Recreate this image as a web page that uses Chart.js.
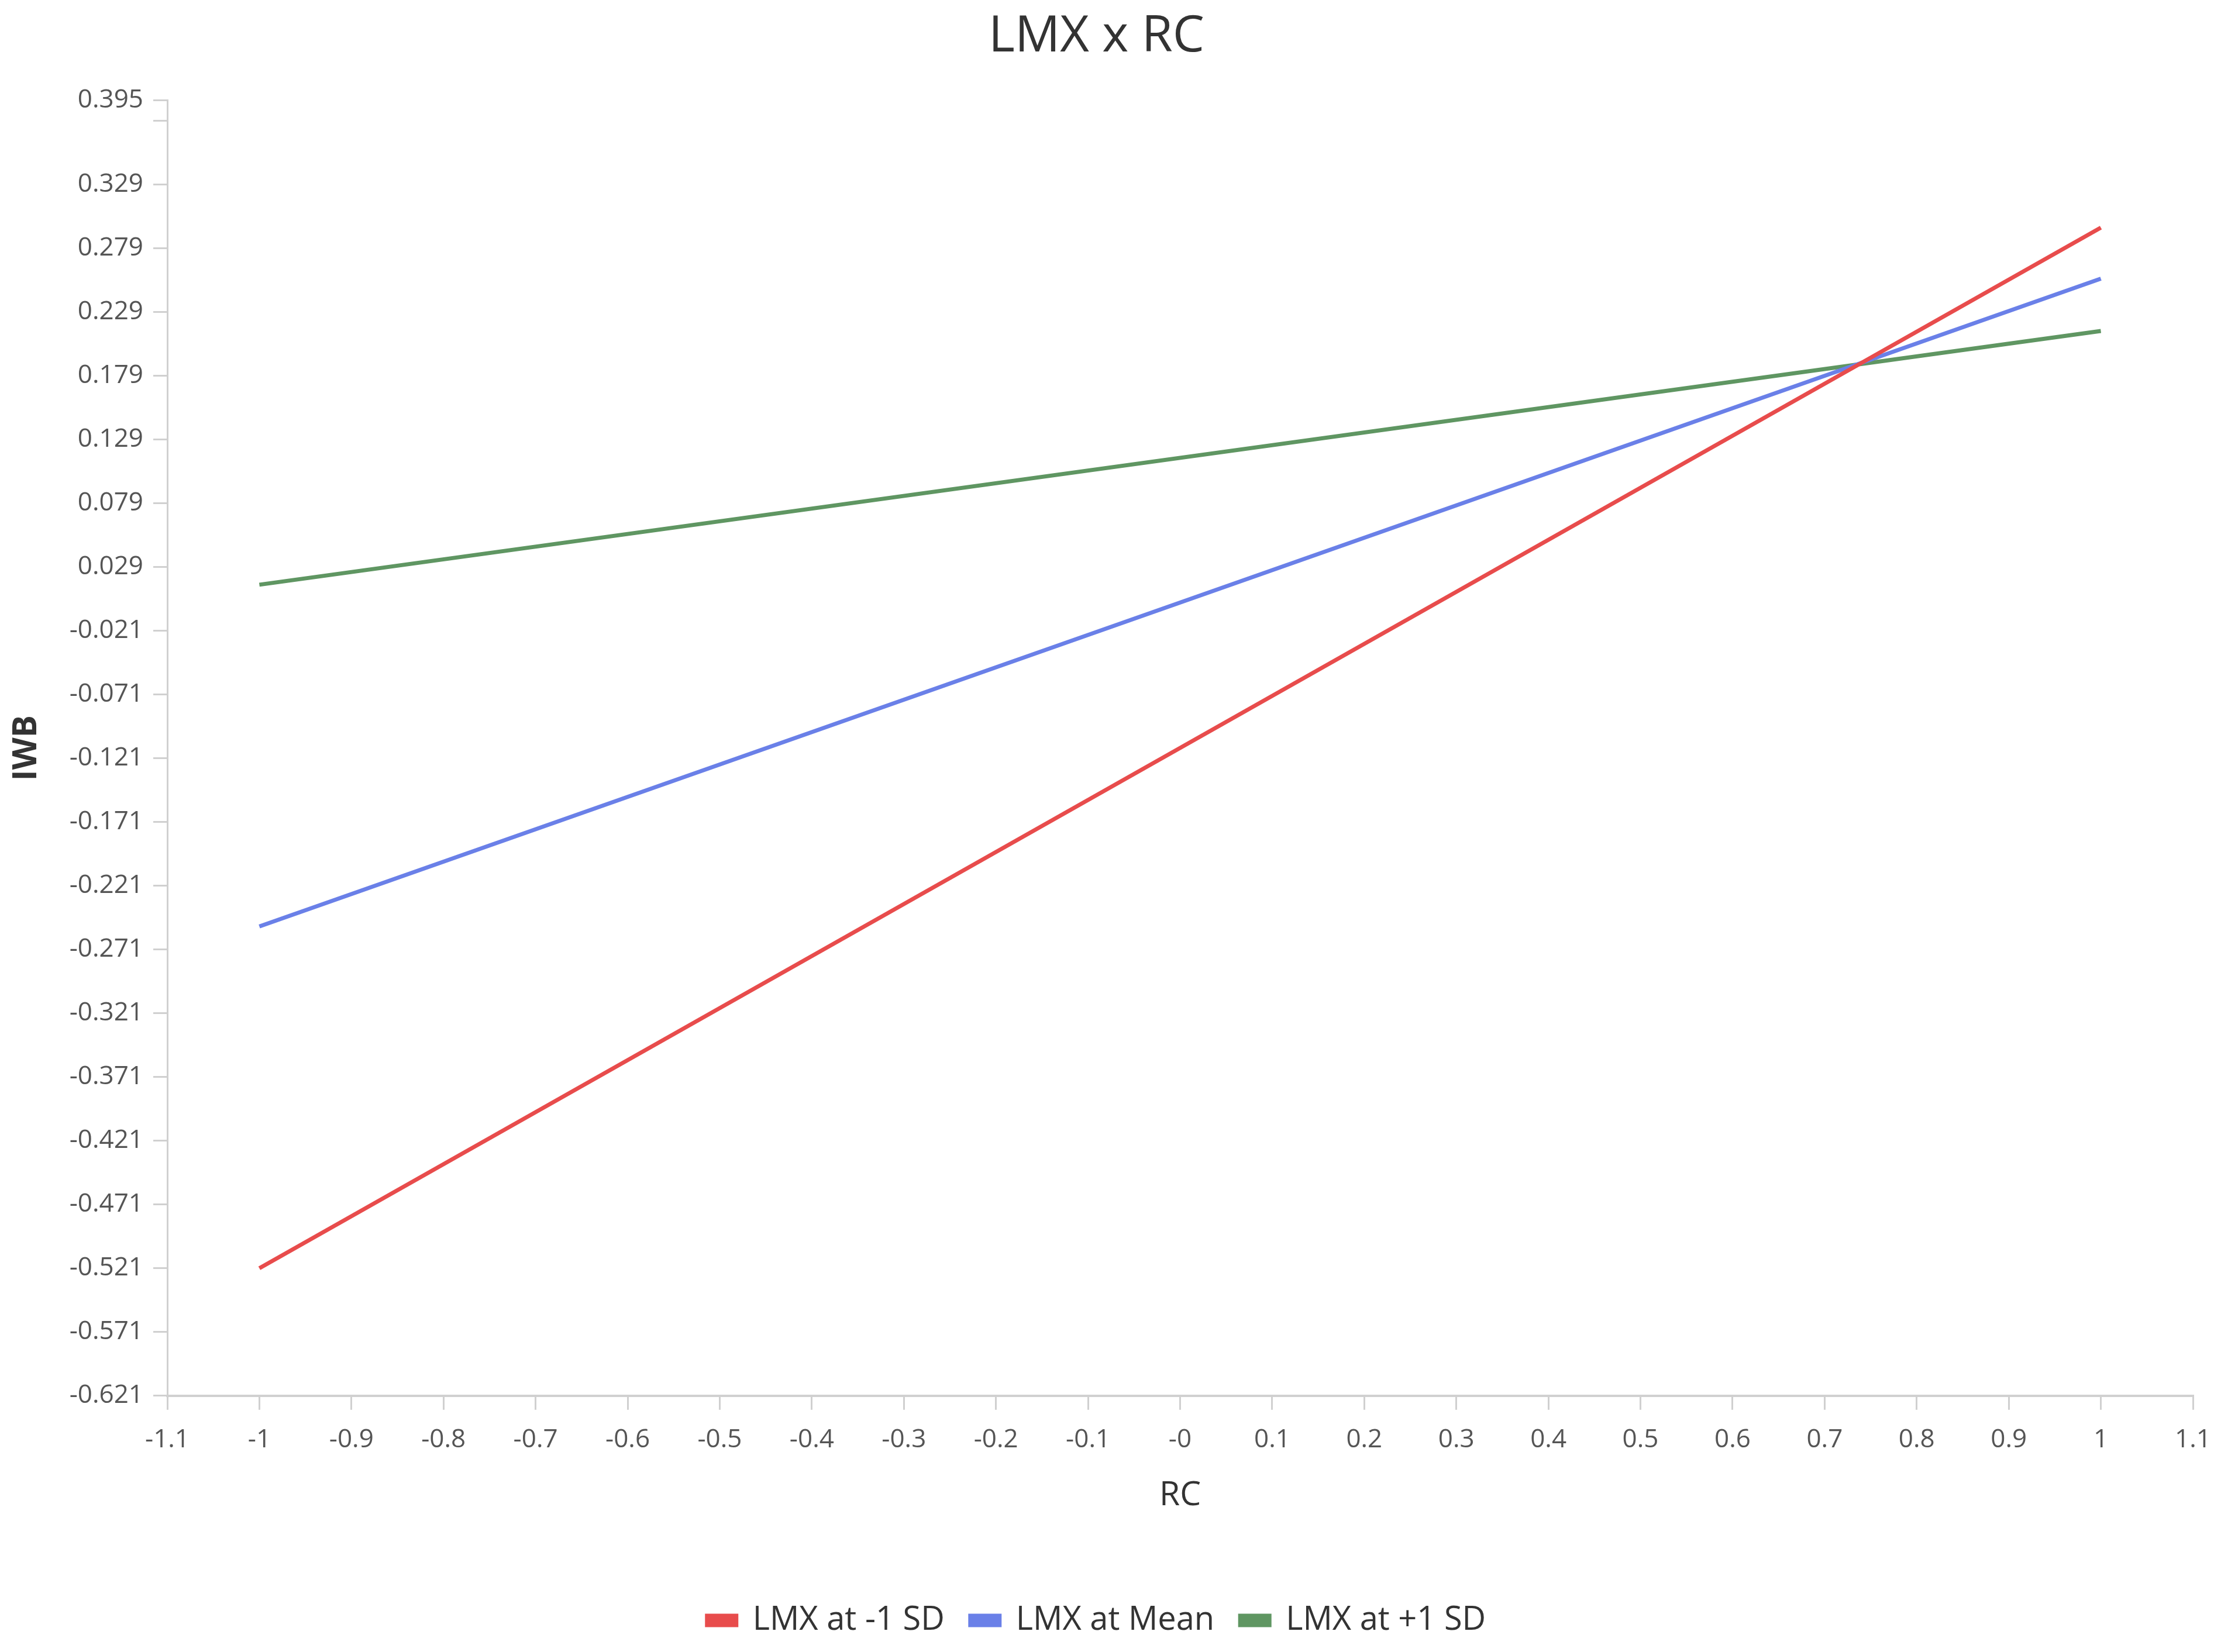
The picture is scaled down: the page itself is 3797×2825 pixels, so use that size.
<!DOCTYPE html>
<html>
<head>
<meta charset="utf-8">
<script src="https://cdn.jsdelivr.net/npm/chart.js@4.4.1/dist/chart.umd.min.js"></script>
<style>
    html, body { margin: 0; padding: 0; background: #ffffff; }
    #wrap { width: 3797px; height: 2825px; }
</style>
</head>
<body>
<div id="wrap"><canvas id="chartLmx"></canvas></div>
<script>
// Data (RC at -1 and +1)
const rcValues = [-1, 1];
const lmxLow = [-0.521, 0.295];   // LMX at -1 SD
const lmxMean = [-0.253, 0.255];  // LMX at Mean
const lmxHigh = [0.015, 0.214];   // LMX at +1 SD

const seriesLabels = ['LMX at -1 SD', 'LMX at Mean', 'LMX at +1 SD'];
const seriesColors = ['#e84c4c', '#6a80e8', '#5f9662'];

// Tick labels as printed on the axes
const xTickValues = [-1.1, -1, -0.9, -0.8, -0.7, -0.6, -0.5, -0.4, -0.3, -0.2, -0.1, 0,
    0.1, 0.2, 0.3, 0.4, 0.5, 0.6, 0.7, 0.8, 0.9, 1, 1.1];
const xTickLabels = ['-1.1', '-1', '-0.9', '-0.8', '-0.7', '-0.6', '-0.5', '-0.4', '-0.3', '-0.2', '-0.1', '-0',
    '0.1', '0.2', '0.3', '0.4', '0.5', '0.6', '0.7', '0.8', '0.9', '1', '1.1'];
const yTickValues = [-0.621, -0.571, -0.521, -0.471, -0.421, -0.371, -0.321, -0.271, -0.221, -0.171,
    -0.121, -0.071, -0.021, 0.029, 0.079, 0.129, 0.179, 0.229, 0.279, 0.329, 0.379, 0.395];
const yTickLabels = ['-0.621', '-0.571', '-0.521', '-0.471', '-0.421', '-0.371', '-0.321', '-0.271', '-0.221', '-0.171',
    '-0.121', '-0.071', '-0.021', '0.029', '0.079', '0.129', '0.179', '0.229', '0.279', '0.329', '', '0.395'];

const FONT = "'Open Sans', 'Noto Sans', sans-serif";
const AXIS_GREY = '#d0d0d0';

function toPoints(values) {
    return rcValues.map((x, i) => ({ x: x, y: values[i] }));
}

const datasets = [lmxLow, lmxMean, lmxHigh].map((vals, i) => ({
    label: seriesLabels[i],
    data: toPoints(vals),
    borderColor: seriesColors[i],
    backgroundColor: seriesColors[i],
    borderWidth: 7,
    pointRadius: 0,
    tension: 0,
    fill: false
}));

const ctx = document.getElementById('chartLmx').getContext('2d');
new Chart(ctx, {
    type: 'line',
    data: { datasets },
    options: {
        responsive: true,
        maintainAspectRatio: false,
        animation: false,
        devicePixelRatio: 1,
        layout: { padding: { left: 0, right: 48, top: 0, bottom: 16 } },
        plugins: {
            title: {
                display: true,
                text: 'LMX x RC',
                color: '#333333',
                font: { family: FONT, size: 86, weight: 'normal' },
                padding: { top: 12, bottom: 56 }
            },
            legend: {
                position: 'bottom',
                labels: {
                    color: '#333333',
                    font: { family: FONT, size: 56 },
                    boxWidth: 50,
                    boxHeight: 16,
                    padding: 44
                }
            },
            tooltip: { enabled: false }
        },
        scales: {
            x: {
                type: 'linear',
                min: -1.1,
                max: 1.1,
                afterBuildTicks: (scale) => {
                    scale.ticks = xTickValues.map(v => ({ value: v }));
                },
                afterFit: (scale) => {
                    scale.paddingRight = 0;
                },
                ticks: {
                    autoSkip: false,
                    maxRotation: 0,
                    color: '#555555',
                    padding: 25,
                    font: { family: FONT, size: 44 },
                    callback: (value, index) => xTickLabels[index]
                },
                grid: {
                    drawOnChartArea: false,
                    drawTicks: true,
                    tickLength: 24,
                    color: AXIS_GREY,
                    lineWidth: 3
                },
                border: { display: true, color: AXIS_GREY, width: 4 },
                title: {
                    display: true,
                    text: 'RC',
                    color: '#333333',
                    font: { family: FONT, size: 57 },
                    padding: { top: 10, bottom: 107 }
                }
            },
            y: {
                type: 'linear',
                min: -0.621,
                max: 0.395,
                afterBuildTicks: (scale) => {
                    scale.ticks = yTickValues.map(v => ({ value: v }));
                },
                afterFit: (scale) => {
                    scale.width = 286;
                },
                ticks: {
                    autoSkip: false,
                    color: '#555555',
                    padding: 17,
                    font: { family: FONT, size: 44 },
                    callback: (value, index) => yTickLabels[index]
                },
                grid: {
                    drawOnChartArea: false,
                    drawTicks: true,
                    tickLength: 24,
                    color: AXIS_GREY,
                    lineWidth: 3
                },
                border: { display: true, color: AXIS_GREY, width: 3 },
                title: {
                    display: true,
                    text: 'IWB',
                    color: '#333333',
                    font: { family: FONT, size: 57, weight: 'bold' },
                    padding: { top: 12, bottom: 0 }
                }
            }
        }
    }
});
</script>
</body>
</html>
